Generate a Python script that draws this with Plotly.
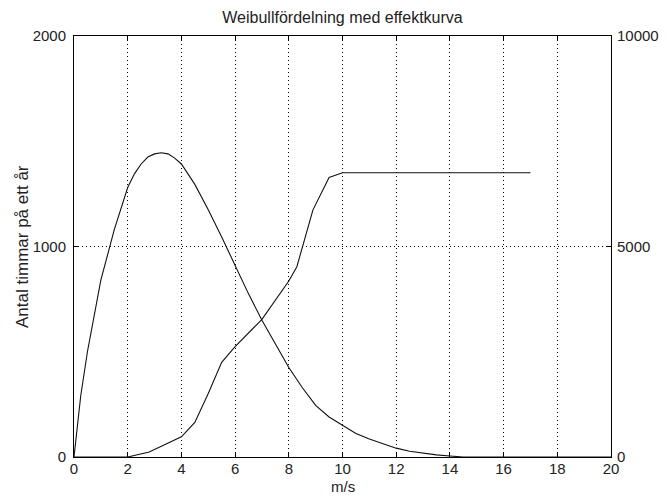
import plotly.graph_objects as go

# Weibull distribution (hours per year), left axis
wind_speed_weibull = [0, 0.25, 0.5, 0.75, 1.0, 1.5, 2.0, 2.25, 2.5, 2.75, 3.0, 3.25, 3.5, 3.75,
                      4.0, 4.5, 5.0, 5.5, 6.0, 6.5, 7.0, 7.5, 8.0, 8.5, 9.0, 9.5, 10.0, 10.5,
                      11.0, 11.5, 12.0, 12.5, 13.0, 13.5, 14.0, 14.5, 20.0]
hours_per_year = [0, 290, 500, 680, 840, 1080, 1280, 1345, 1392, 1425, 1440, 1445, 1440, 1420,
                  1392, 1295, 1175, 1045, 910, 775, 650, 535, 425, 330, 245, 190, 150, 112,
                  85, 62, 42, 27, 18, 10, 5, 0, 0]

# Power curve, right axis
wind_speed_power = [0, 2.0, 2.8, 4.0, 4.5, 5.0, 5.5, 6.0, 7.0, 8.0, 8.3, 8.55, 8.9, 9.5, 10.0, 17.0]
power_values = [0, 0, 120, 480, 820, 1510, 2250, 2620, 3270, 4180, 4520, 5080, 5870, 6640, 6750, 6750]

x_ticks = list(range(0, 21, 2))
left_ticks = [0, 1000, 2000]
right_ticks = [0, 5000, 10000]
right_tick_text = ["0", "5000", "10000"]

title_text = "Weibullfördelning med effektkurva"
x_label = "m/s"
y_label = "Antal timmar på ett år"

FONT = "Liberation Sans, Arial, sans-serif"
TXT = "#222222"
W, H = 667, 497
ML, MR, MT, MB = 74, 56, 36, 40
PW, PH = W - ML - MR, H - MT - MB

fig = go.Figure()
fig.add_trace(go.Scatter(x=wind_speed_weibull, y=hours_per_year, mode="lines",
                         line=dict(color="#111111", width=1.1), yaxis="y", showlegend=False))
fig.add_trace(go.Scatter(x=wind_speed_power, y=power_values, mode="lines",
                         line=dict(color="#111111", width=1.1), yaxis="y2", showlegend=False))

fig.update_layout(
    width=W, height=H,
    margin=dict(l=ML, r=MR, t=MT, b=MB),
    paper_bgcolor="white", plot_bgcolor="white",
    font=dict(family=FONT, size=15, color=TXT),
    title=dict(text=title_text, x=0.5, xref="paper", xanchor="center",
               y=1 - 17.5 / H, yref="container", yanchor="middle",
               font=dict(family=FONT, size=16, color=TXT)),
    xaxis=dict(range=[0, 20], tickvals=x_ticks, ticks="inside", ticklen=5, tickcolor="black",
               showline=True, linecolor="black", linewidth=1, mirror="ticks",
               showgrid=True, gridcolor="black", griddash="1px,3px", gridwidth=1,
               zeroline=False, automargin=False,
               tickfont=dict(size=15, color=TXT), ticklabelstandoff=-2),
    yaxis=dict(range=[0, 2000], tickvals=left_ticks, ticks="inside", ticklen=5, tickcolor="black",
               showline=True, linecolor="black", linewidth=1,
               showgrid=True, gridcolor="black", griddash="1px,3px", gridwidth=1,
               zeroline=False, automargin=False,
               tickfont=dict(size=15, color=TXT), ticklabelstandoff=4),
    yaxis2=dict(range=[0, 10000], tickvals=right_ticks, ticktext=right_tick_text,
                ticks="inside", ticklen=5, tickcolor="black",
                overlaying="y", side="right", showline=True, linecolor="black", linewidth=1,
                showgrid=False, zeroline=False, automargin=False,
                tickfont=dict(size=15, color=TXT), ticklabelstandoff=2),
    annotations=[
        dict(text=x_label, xref="paper", yref="paper", x=0.5, y=((H - MB) - 486) / PH,
             xanchor="center", yanchor="middle", showarrow=False,
             font=dict(family=FONT, size=15, color=TXT)),
        dict(text=y_label, xref="paper", yref="paper", x=(22.5 - ML) / PW, y=0.5,
             xanchor="center", yanchor="middle", textangle=-90, showarrow=False,
             font=dict(family=FONT, size=17, color=TXT)),
    ],
)

fig.write_html("out.html", config={"displayModeBar": False},
               post_script="document.body.style.margin='0';document.body.style.padding='0';")
